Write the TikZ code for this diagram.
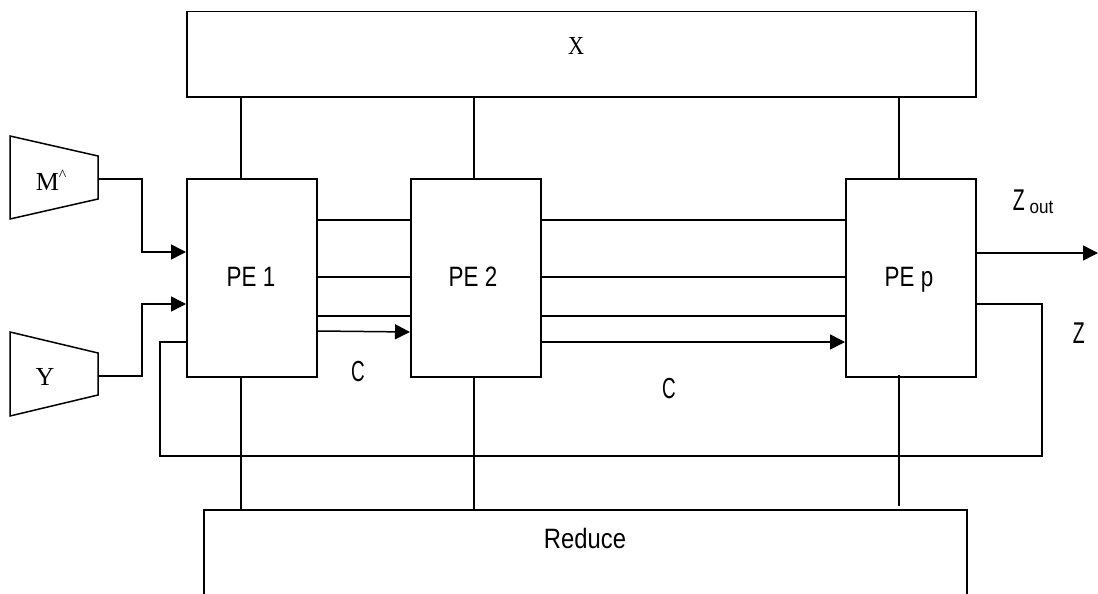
\documentclass[tikz,border=0pt]{standalone}
\usepackage{fontspec}
\setmainfont{Liberation Serif}
\newfontfamily\sansf{Liberation Sans}
\usetikzlibrary{calc,arrows.meta}
\begin{document}
\begin{tikzpicture}[x=1pt,y=-1pt,line width=1.5pt,
  box/.style={draw,rectangle,inner sep=0pt,anchor=north west},
  arr/.style={-{Triangle[length=15pt,width=15pt]}},
  sl/.style={font=\sansf\fontsize{28}{28}\selectfont,inner sep=0pt},
  sr/.style={font=\fontsize{26}{26}\selectfont,inner sep=0pt}]
\path[use as bounding box,clip] (0,0) rectangle (1098,594);
% boxes
\node[box,minimum width=789pt,minimum height=85pt] (X) at (186,11) {};
\node[box,minimum width=130pt,minimum height=198pt] (pe1) at (186,178) {};
\node[box,minimum width=130pt,minimum height=198pt] (pe2) at (410,178) {};
\node[box,minimum width=130pt,minimum height=198pt] (pep) at (845,178) {};
\node[box,minimum width=763pt,minimum height=140pt] (reduce) at (203,509) {};
% trapezoids
\draw (10,136) -- (98,156) -- (98,199) -- (10,219) -- cycle;
\draw (10,332) -- (98,353) -- (98,395) -- (10,416) -- cycle;
\coordinate (mo) at (98,179);
\coordinate (yo) at (98,376);
% labels
\node[sr,anchor=base] (xl) at (576,55) {\scalebox{0.85}[1]{X}};
\node[sr,anchor=base west] (ml) at (35,190) {M{\fontsize{16}{16}\selectfont\raisebox{10pt}{\textasciicircum}}};
\node[sr,anchor=base] (yl) at (45,385) {Y};
\node[sl,anchor=base] (l1) at (251,286) {\scalebox{0.8}[1]{PE 1}};
\node[sl,anchor=base] (l2) at (473,286) {\scalebox{0.8}[1]{PE 2}};
\node[sl,anchor=base] (l3) at (909,286) {\scalebox{0.8}[1]{PE p}};
\node[sl,anchor=base] (rl) at (585,548) {\scalebox{0.85}[1]{Reduce}};
\node[sl,anchor=base,font=\sansf\fontsize{29}{29}\selectfont] (c1) at (358,381) {\scalebox{0.65}[1]{C}};
\node[sl,anchor=base,font=\sansf\fontsize{29}{29}\selectfont] (c2) at (669,398) {\scalebox{0.65}[1]{C}};
\node[sl,anchor=base west,font=\sansf\fontsize{30}{30}\selectfont] (zo) at (1012,210) {\scalebox{0.65}[1]{Z}\hspace{5pt}\raisebox{-3pt}{\fontsize{19}{19}\selectfont\scalebox{0.9}[1]{out}}};
\node[sl,anchor=base west,font=\sansf\fontsize{30}{30}\selectfont] (z) at (1072,343) {\scalebox{0.65}[1]{Z}};
% X to PEs
\coordinate (t1) at ($(pe1.north west)+(55,0)$);
\coordinate (t2) at ($(pe2.north west)+(64,0)$);
\coordinate (t3) at ($(pep.north west)+(54,0)$);
\draw (t1) -- (t1 |- X.south);
\draw (t2) -- (t2 |- X.south);
\draw (t3) -- (t3 |- X.south);
% PEs to Reduce
\coordinate (b1) at ($(pe1.south west)+(55,0)$);
\coordinate (b2) at ($(pe2.south west)+(64,0)$);
\coordinate (b3) at ($(pep.south west)+(54,0)$);
\draw (b1) -- (b1 |- reduce.north);
\draw (b2) -- (b2 |- reduce.north);
\draw ($(b3)+(0,-3)$) -- ($(b3 |- reduce.north)+(0,-3)$);
% inputs
\draw[arr] (mo) -- ++(44,0) |- ($(pe1.north west)+(0,74)$);
\draw[arr] (yo) -- ++(44,0) |- ($(pe1.north west)+(0,126)$);
% PE1 -> PE2
\draw ($(pe1.north east)+(0,42)$) -- ($(pe2.north west)+(0,42)$);
\draw ($(pe1.north east)+(0,99)$) -- ($(pe2.north west)+(0,99)$);
\draw ($(pe1.north east)+(0,138)$) -- ($(pe2.north west)+(0,138)$);
\draw[arr] ($(pe1.north east)+(0,153)$) -- ($(pe2.north west)+(0,154)$);
% PE2 -> PEp
\draw ($(pe2.north east)+(0,42)$) -- ($(pep.north west)+(0,42)$);
\draw ($(pe2.north east)+(0,99)$) -- ($(pep.north west)+(0,99)$);
\draw ($(pe2.north east)+(0,138)$) -- ($(pep.north west)+(0,138)$);
\draw[arr] ($(pe2.north east)+(0,164)$) -- ($(pep.north west)+(0,164)$);
% output
\coordinate (zend) at (1098,253);
\draw[arr] ($(pep.north east)+(0,75)$) -- (zend);
% feedback
\coordinate (lr) at (1042,456);
\coordinate (ll) at (160,456);
\draw ($(pep.north east)+(0,126)$) -| (lr) -- (ll) |- ($(pe1.north west)+(0,164)$);
\end{tikzpicture}
\end{document}
